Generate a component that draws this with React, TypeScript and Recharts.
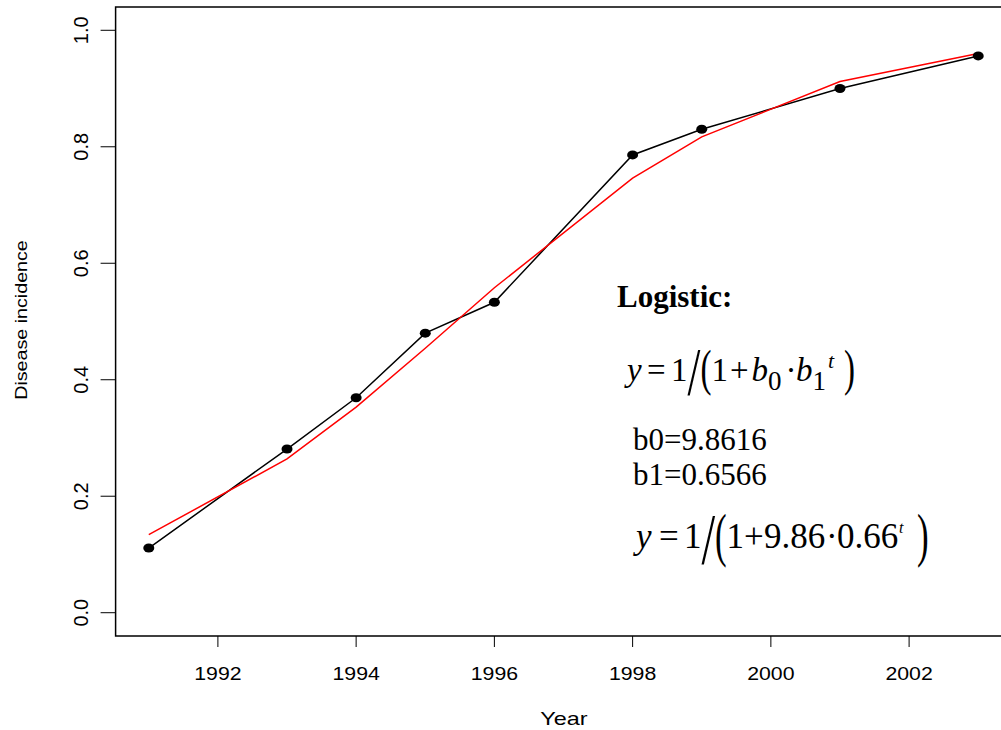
import React from 'react';
import {
  LineChart,
  Line,
  XAxis,
  YAxis,
  ReferenceArea,
  Customized,
} from 'recharts';

// observed disease incidence and logistic fit
const years = [1991, 1993, 1994, 1995, 1996, 1998, 1999, 2001, 2003];
const observed = [0.111, 0.281, 0.369, 0.48, 0.533, 0.786, 0.83, 0.9, 0.956];
const fitted = [0.134, 0.264, 0.353, 0.454, 0.558, 0.746, 0.817, 0.912, 0.96];

const xTicks = [1992, 1994, 1996, 1998, 2000, 2002];
const yTicks = [0, 0.2, 0.4, 0.6, 0.8, 1.0];

const xDomain: [number, number] = [1990.52, 2003.48];
const yDomain: [number, number] = [-0.04, 1.04];

const data = years.map((year, i) => ({
  year,
  observed: observed[i],
  fitted: fitted[i],
}));

const SANS = '"Liberation Sans", Arial, sans-serif';
const SERIF = '"Liberation Serif", "Times New Roman", serif';

const XTick = (props: any) => {
  const { x, y, payload } = props;
  return (
    <text
      transform={`translate(${x},${y + 31}) scale(1.15,1)`}
      textAnchor="middle"
      fontSize={18.5}
      fontFamily={SANS}
      fill="#000"
    >
      {payload.value}
    </text>
  );
};

const YTick = (props: any) => {
  const { x, y, payload } = props;
  return (
    <text
      transform={`translate(${x - 11},${y}) rotate(-90)`}
      textAnchor="middle"
      fontSize={20}
      fontFamily={SANS}
      fill="#000"
    >
      {Number(payload.value).toFixed(1)}
    </text>
  );
};

const Dot = (props: any) => {
  const { cx, cy, index } = props;
  return <ellipse key={`dot-${index}`} cx={cx} cy={cy} rx={5.5} ry={4.5} fill="#000" />;
};

// piece: [text, x, baseline, size, italic, scaleX, scaleY]
type Piece = [string, number, number, number, boolean, number, number];

const Formula = ({ pieces }: { pieces: Piece[] }) => (
  <g>
    {pieces.map(([ch, x, y, size, italic, sx, sy], i) => (
      <text
        key={i}
        transform={`translate(${x},${y}) scale(${sx},${sy})`}
        fontSize={size}
        fontFamily={SERIF}
        fontStyle={italic ? 'italic' : 'normal'}
        fill="#000"
      >
        {ch}
      </text>
    ))}
  </g>
);

const formula1: Piece[] = [
  ['y', 627, 381, 33, true, 1, 1],
  ['=', 647, 381, 33, false, 1, 1],
  ['1', 671, 381, 33, false, 1, 1],
  ['/', 687.5, 394, 33, false, 1.4, 2.06],
  ['(', 700.5, 385, 33, false, 1, 1.53],
  ['1', 711.5, 381, 33, false, 1, 1],
  ['+', 730, 381, 33, false, 1, 1],
  ['b', 751.5, 381, 33, true, 1, 1],
  ['0', 768, 390, 27, false, 1, 1],
  ['·', 785.5, 381, 33, false, 1, 1],
  ['b', 796, 381, 33, true, 1, 1],
  ['1', 812.5, 390, 27, false, 1, 1],
  ['t', 828, 368, 22, true, 1, 1],
  [')', 844, 385, 33, false, 1, 1.53],
];

const formula2: Piece[] = [
  ['y', 636, 548, 35, true, 1, 1],
  ['=', 659, 548, 35, false, 1, 1],
  ['1', 684, 548, 35, false, 1, 1],
  ['/', 701.5, 563, 35, false, 1.4, 2.07],
  ['(', 715, 554.5, 35, false, 1, 1.7],
  ['1', 726.5, 548, 35, false, 1, 1],
  ['+', 744, 548, 35, false, 1, 1],
  ['9.86', 764, 548, 35, false, 1, 1],
  ['·', 826, 548, 35, false, 1, 1],
  ['0.66', 837, 548, 35, false, 1, 1],
  ['t', 899, 533, 16, true, 1, 1],
  [')', 917, 554.5, 35, false, 1, 1.7],
];

const Annotations = () => (
  <g>
    <text
      transform="translate(564,725) scale(1.3,1)"
      textAnchor="middle"
      fontSize={18}
      fontFamily={SANS}
      fill="#000"
    >
      Year
    </text>
    <text
      transform="translate(27,320) rotate(-90) scale(1.23,1)"
      textAnchor="middle"
      fontSize={16}
      fontFamily={SANS}
      fill="#000"
    >
      Disease incidence
    </text>

    <text x={617} y={307} fontSize={31} fontWeight="bold" fontFamily={SERIF} fill="#000">
      Logistic:
    </text>

    <Formula pieces={formula1} />

    <text x={633} y={450} fontSize={31} fontFamily={SERIF} fill="#000">
      b0=9.8616
    </text>
    <text x={633} y={485} fontSize={31} fontFamily={SERIF} fill="#000">
      b1=0.6566
    </text>

    <Formula pieces={formula2} />
  </g>
);

export default function App() {
  return (
    <div
      style={{
        position: 'absolute',
        left: 0,
        top: 0,
        width: 1001,
        height: 730,
        overflow: 'hidden',
        background: '#fff',
      }}
    >
      <LineChart
        width={1020}
        height={730}
        data={data}
        margin={{ top: 7, right: 8.6, bottom: 0, left: 0 }}
      >
        <XAxis
          dataKey="year"
          type="number"
          domain={xDomain}
          ticks={xTicks}
          allowDataOverflow
          axisLine={false}
          tickSize={11}
          tickLine={{ stroke: '#000', strokeWidth: 1 }}
          tick={<XTick />}
          height={94}
        />
        <YAxis
          type="number"
          domain={yDomain}
          ticks={yTicks}
          allowDataOverflow
          axisLine={false}
          tickSize={15}
          tickLine={{ stroke: '#000', strokeWidth: 1 }}
          tick={<YTick />}
          width={115.6}
        />
        <ReferenceArea
          x1={xDomain[0]}
          x2={xDomain[1]}
          y1={yDomain[0]}
          y2={yDomain[1]}
          fill="none"
          stroke="#000"
          strokeWidth={1.5}
          fillOpacity={0}
        />
        <Line
          type="linear"
          dataKey="observed"
          stroke="#000"
          strokeWidth={1.5}
          dot={<Dot />}
          isAnimationActive={false}
        />
        <Line
          type="linear"
          dataKey="fitted"
          stroke="#ff0000"
          strokeWidth={1.5}
          dot={false}
          isAnimationActive={false}
        />
        <Customized component={<Annotations />} />
      </LineChart>
    </div>
  );
}
